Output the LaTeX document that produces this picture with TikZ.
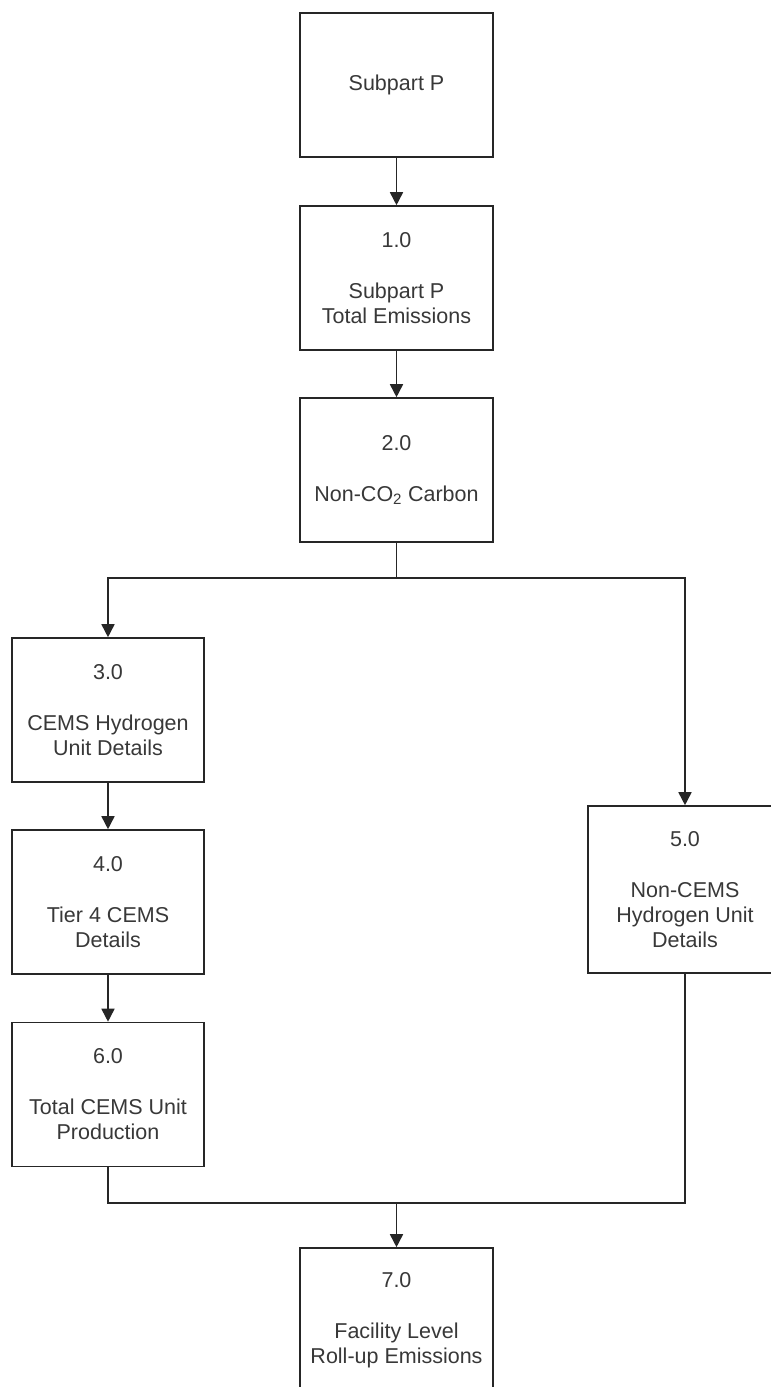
\documentclass[tikz,border=0pt]{standalone}
\usepackage{fontspec}
\setmainfont{Liberation Sans}
\usetikzlibrary{arrows.meta}
\definecolor{linec}{gray}{0.15}
\definecolor{textc}{gray}{0.22}
\begin{document}
\begin{tikzpicture}[x=1pt,y=-1pt,
  box/.style={draw=linec,line width=1.6pt,rectangle,minimum width=193pt,minimum height=144pt,
    inner sep=0pt,align=center,text=textc,font=\fontsize{21.5}{25}\selectfont},
  conn/.style={draw=linec,line width=1.6pt},
  arr/.style={conn,-{Triangle[width=13pt,length=13pt]}}]
\useasboundingbox (0,0) rectangle (771,1387);
\fill[white] (0,0) rectangle (771,1387);
\node[box] (b0) at (396.5,85) {Subpart P};
\node[box] (b1) at (396.5,278) {1.0\\[26pt]Subpart P\\Total Emissions};
\node[box] (b2) at (396.5,470) {2.0\\[26pt]Non-CO\textsubscript{2} Carbon};
\node[box,minimum width=192pt] (b3) at (108,710) {3.0\\[26pt]CEMS Hydrogen\\Unit Details};
\node[box,minimum width=192pt] (b4) at (108,902) {4.0\\[26pt]Tier 4 CEMS\\Details};
\node[box,minimum width=194pt,minimum height=167pt] (b5) at (685,889.5) {5.0\\[26pt]Non-CEMS\\Hydrogen Unit\\Details};
\node[box,minimum width=192pt] (b6) at (108,1094.5) {6.0\\[26pt]Total CEMS Unit\\Production};
\node[box] (b7) at (396.5,1320) {7.0\\[26pt]Facility Level\\Roll-up Emissions};
\coordinate (split) at (396.5,578);
\coordinate (merge) at (396.5,1203);
\draw[arr] (b0.south) -- (b1.north);
\draw[arr] (b1.south) -- (b2.north);
\draw[conn] (b2.south) -- (split);
\draw[arr] (split) -| (b3.north);
\draw[arr] (split) -| (b5.north);
\draw[arr] (b3.south) -- (b4.north);
\draw[arr] (b4.south) -- (b6.north);
\draw[conn] (b6.south) |- (merge);
\draw[conn] (b5.south) |- (merge);
\draw[arr] (merge) -- (b7.north);
\end{tikzpicture}
\end{document}
